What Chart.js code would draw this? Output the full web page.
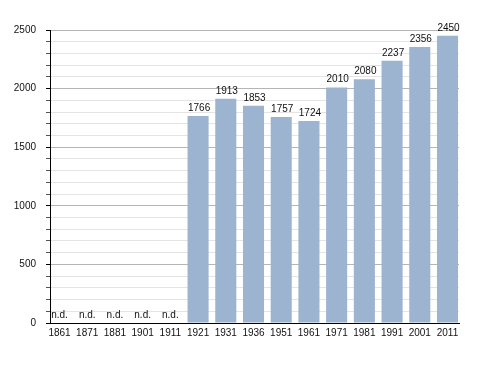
<!DOCTYPE html>
<html><head><meta charset="utf-8">
<script src="https://cdn.jsdelivr.net/npm/chart.js@4"></script>
<style>html,body{margin:0;padding:0;background:#fff}#wrap{width:488px;height:373px;position:relative}</style>
</head><body><div id="wrap"><canvas id="c"></canvas></div>
<script>
const years = ['1861','1871','1881','1901','1911','1921','1931','1936','1951','1961','1971','1981','1991','2001','2011'];
const population = [null,null,null,null,null,1766,1913,1853,1757,1724,2010,2080,2237,2356,2450];
const yTickLabels = [0,500,1000,1500,2000,2500];
const missingLabel = 'n.d.';

const FONT = '"Liberation Sans", Arial, sans-serif';
Chart.defaults.font.family = FONT;
Chart.defaults.font.size = 10;
Chart.defaults.color = '#111';

const valueLabels = {
  id: 'valueLabels',
  afterDatasetsDraw(chart) {
    const {ctx, scales: {x, y}} = chart;
    const meta = chart.getDatasetMeta(0);
    ctx.save();
    ctx.font = '10px ' + FONT;
    ctx.fillStyle = '#111';
    ctx.textAlign = 'center';
    ctx.textBaseline = 'alphabetic';
    population.forEach((v, i) => {
      if (v == null) {
        ctx.fillText(missingLabel, x.getPixelForValue(i), y.getPixelForValue(0) - 5);
      } else {
        const el = meta.data[i];
        ctx.fillText(String(v), el.x + 1, el.y - 5);
      }
    });
    ctx.restore();
  }
};

new Chart(document.getElementById('c'), {
  type: 'bar',
  data: {
    datasets: [{
      data: population.map((v, i) => ({x: i, y: v})),
      backgroundColor: '#9cb4cf',
      borderWidth: 0,
      barPercentage: 0.76,
      categoryPercentage: 1
    }]
  },
  options: {
    responsive: true,
    maintainAspectRatio: false,
    animation: false,
    devicePixelRatio: 1,
    layout: {padding: {top: 30, right: 29, bottom: 30, left: 0}},
    plugins: {legend: {display: false}, tooltip: {enabled: false}},
    scales: {
      x: {
        type: 'linear',
        offset: false,
        min: -0.343,
        max: 14.415,
        afterBuildTicks: (scale) => { scale.ticks = years.map((_, i) => ({value: i})); },
        afterFit: (scale) => { scale.height = 20; },
        grid: {display: false, drawTicks: false, offset: false},
        border: {display: true, color: '#000', width: 1},
        ticks: {
          autoSkip: false, maxRotation: 0, padding: 4,
          callback: (v) => years[v] !== undefined ? years[v] : ''
        }
      },
      y: {
        min: 0,
        max: 2500,
        afterFit: (scale) => { scale.width = 50; },
        border: {display: true, color: '#000', width: 1},
        grid: {
          color: (c) => (c.tick && c.tick.value % 500 === 0) ? '#b5b5b5' : '#e4e4e4',
          tickColor: (c) => (c.tick && c.tick.value % 500 === 0) ? '#000' : '#555',
          tickLength: 4
        },
        ticks: {
          stepSize: 100,
          autoSkip: false,
          padding: 10,
          callback: (v) => yTickLabels.includes(v) ? String(v) : ''
        }
      }
    }
  },
  plugins: [valueLabels]
});
</script>
</body></html>
